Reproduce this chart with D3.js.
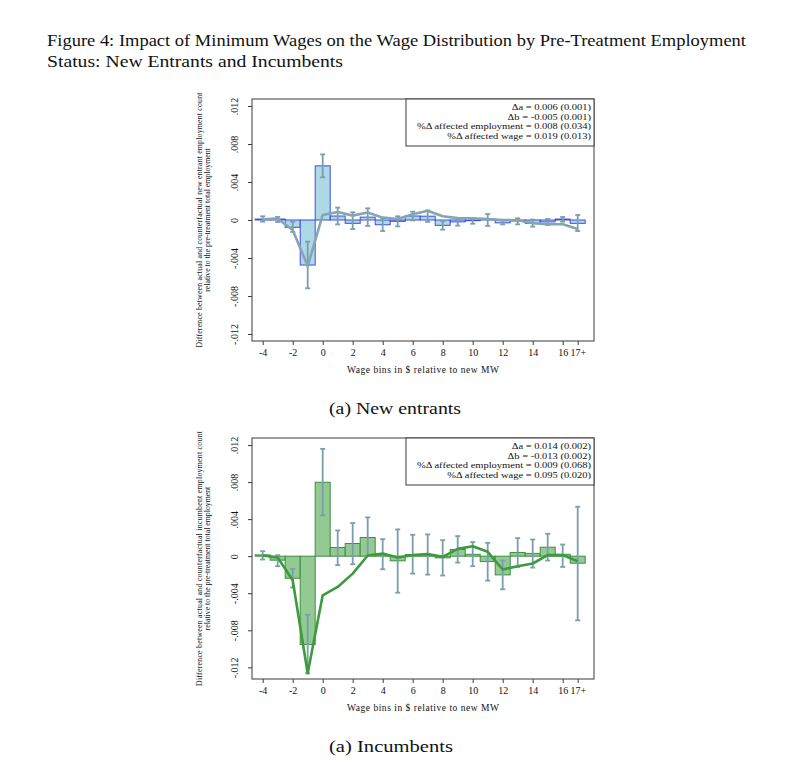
<!DOCTYPE html>
<html><head><meta charset="utf-8">
<script src="https://cdn.jsdelivr.net/npm/d3@7"></script>
<style>body{margin:0;background:#fff} svg{display:block}</style>
</head><body>
<script>
// ---------- DATA ----------
const bins = [-4,-3,-2,-1,0,1,2,3,4,5,6,7,8,9,10,11,12,13,14,15,16,17];
const xTickValues = [-4,-2,0,2,4,6,8,10,12,14,16,17];
const xTickLabels = ["-4","-2","0","2","4","6","8","10","12","14","16","17+"];
const yTickValues = [0.012,0.008,0.004,0,-0.004,-0.008,-0.012];
const yTickLabels = [".012",".008",".004","0","-.004","-.008","-.012"];

// New entrants
const barsNE  = [0.0001,0.0001,-0.00077,-0.00474,0.00570,0.00042,-0.00035,0.00030,-0.00050,-0.00014,0.00042,0.00040,-0.00056,-0.00020,-0.00007,0.00010,-0.00030,-0.00010,-0.00035,-0.00020,0.00010,-0.00035];
const ciHiNE  = [0.00039,0.00032,-0.00018,-0.00228,0.00691,0.00130,0.00081,0.00123,0.00018,0.00039,0.00088,0.00100,-0.00011,0.00011,0.00011,0.00063,0.00000,0.00018,0.00004,0.00011,0.00032,0.00053];
const ciLoNE  = [-0.00018,-0.00021,-0.00126,-0.00719,0.00449,-0.00046,-0.00095,-0.00063,-0.00116,-0.00067,-0.00004,-0.00020,-0.00102,-0.00060,-0.00039,-0.00063,-0.00046,-0.00046,-0.00070,-0.00053,-0.00018,-0.00116];
const lineNE  = [0.00007,0.00014,-0.00105,-0.00484,0.00053,0.00085,0.00046,0.00080,0.00025,0.00010,0.00060,0.00098,0.00040,0.00020,0.00018,0.00010,0.00000,-0.00003,-0.00035,-0.00045,-0.00045,-0.00095];
const legendNE = ["\u0394a =  0.006 (0.001)","\u0394b = -0.005 (0.001)","%\u0394 affected employment =  0.008 (0.034)","%\u0394 affected wage =  0.019 (0.013)"];

// Incumbents
const barsInc = [0.00014,-0.00043,-0.00238,-0.00953,0.00798,0.00094,0.00137,0.00202,0.00005,-0.00050,0.00018,0.00018,-0.00018,0.00072,0.00020,-0.00058,-0.00202,0.00040,0.00030,0.00097,0.00020,-0.00076];
const ciHiInc = [0.00054,0.00011,-0.00137,-0.00632,0.01159,0.00278,0.00357,0.00419,0.00184,0.00289,0.00231,0.00235,0.00173,0.00217,0.00152,0.00144,-0.00047,0.00195,0.00180,0.00242,0.00126,0.00534];
const ciLoInc = [-0.00036,-0.00108,-0.00339,-0.01264,0.00440,-0.00097,-0.00087,0.00004,-0.00141,-0.00394,-0.00188,-0.00199,-0.00209,-0.00069,-0.00108,-0.00264,-0.00357,-0.00116,-0.00123,-0.00047,-0.00116,-0.00693];
const lineInc = [0.00007,-0.00014,-0.00260,-0.01264,-0.00422,-0.00332,-0.00188,0.00007,0.00029,-0.00014,0.00011,0.00022,-0.00007,0.00079,0.00108,0.00047,-0.00144,-0.00108,-0.00079,0.00011,0.00011,-0.00054];
const legendInc = ["\u0394a =  0.014 (0.002)","\u0394b = -0.013 (0.002)","%\u0394 affected employment =  0.009 (0.068)","%\u0394 affected wage =  0.095 (0.020)"];

const titleLines = ["Figure 4: Impact of Minimum Wages on the Wage Distribution by Pre-Treatment Employment","Status: New Entrants and Incumbents"];
const xAxisTitle = "Wage bins in $ relative to new MW";

// ---------- DRAW ----------
const W = 795, H = 765;
const serif = "'Liberation Serif','Times New Roman',serif";
const svg = d3.select("body").append("svg").attr("width", W).attr("height", H);

svg.append("text").attr("x",47).attr("y",46).attr("font-family",serif).attr("font-size",17)
  .attr("textLength",699).attr("lengthAdjust","spacingAndGlyphs").attr("fill","#111").text(titleLines[0]);
svg.append("text").attr("x",47).attr("y",67).attr("font-family",serif).attr("font-size",17)
  .attr("textLength",296).attr("lengthAdjust","spacingAndGlyphs").attr("fill","#111").text(titleLines[1]);

function panel(cfg){
  const L = 252, R = 594, T = cfg.top, B = cfg.bottom;
  const x = d3.scaleLinear().domain([-4.713, 18.087]).range([L, R]);
  const y = d3.scaleLinear().domain(cfg.yDomain).range([B, T]);
  const g = svg.append("g");

  // bars
  g.selectAll("rect.bar").data(bins).join("rect").attr("class","bar")
    .attr("x", d => x(d-0.5)).attr("width", d => x(d+0.5)-x(d-0.5))
    .attr("y", (d,i) => y(Math.max(0,cfg.bars[i])))
    .attr("height", (d,i) => Math.abs(y(cfg.bars[i]) - y(0)))
    .attr("fill", cfg.barFill).attr("stroke", cfg.barStroke).attr("stroke-width", 1);

  // error bars
  const eb = g.selectAll("g.eb").data(bins).join("g").attr("class","eb")
    .attr("stroke", "#7b9eae").attr("stroke-width", 1.8);
  eb.append("line").attr("x1", d=>x(d)).attr("x2", d=>x(d))
    .attr("y1",(d,i)=>y(cfg.lo[i])).attr("y2",(d,i)=>y(cfg.hi[i]));
  eb.append("line").attr("x1", d=>x(d)-2.5).attr("x2", d=>x(d)+2.5)
    .attr("y1",(d,i)=>y(cfg.lo[i])).attr("y2",(d,i)=>y(cfg.lo[i]));
  eb.append("line").attr("x1", d=>x(d)-2.5).attr("x2", d=>x(d)+2.5)
    .attr("y1",(d,i)=>y(cfg.hi[i])).attr("y2",(d,i)=>y(cfg.hi[i]));

  // line
  const line = d3.line().x((d,i)=>x(bins[i])).y(d=>y(d));
  g.append("path").datum(cfg.line).attr("d", line).attr("fill","none")
    .attr("stroke", cfg.lineColor).attr("stroke-width", 2.6).attr("stroke-linejoin","round");

  // frame
  g.append("rect").attr("x",L).attr("y",T).attr("width",R-L).attr("height",B-T)
    .attr("fill","none").attr("stroke","#3a3a3a").attr("stroke-width",1);

  // x axis
  const xa = g.append("g").attr("transform",`translate(0,${B})`)
    .call(d3.axisBottom(x).tickValues(xTickValues).tickSize(4).tickPadding(4)
      .tickFormat((d,i)=>xTickLabels[i]));
  xa.select(".domain").remove();
  xa.selectAll("line").attr("stroke","#3a3a3a");
  xa.selectAll("text").attr("font-family",serif).attr("font-size",10).attr("fill","#111");

  // y axis
  const ya = g.append("g").attr("transform",`translate(${L},0)`)
    .call(d3.axisLeft(y).tickValues(yTickValues).tickSize(4).tickFormat((d,i)=>yTickLabels[i]));
  ya.select(".domain").remove();
  ya.selectAll("line").attr("stroke","#3a3a3a");
  ya.selectAll("text").attr("font-family",serif).attr("font-size",10).attr("fill","#111")
    .attr("text-anchor","middle").attr("dy",null).attr("x",null)
    .attr("transform","translate(-14,0) rotate(-90)");

  // axis titles
  g.append("text").attr("x",(L+R)/2).attr("y",B+32).attr("text-anchor","middle")
    .attr("font-family",serif).attr("font-size",9.5).attr("textLength",152).attr("fill","#111").text(xAxisTitle);
  const yc = (T+B)/2;
  g.append("text").attr("transform",`translate(202,${yc}) rotate(-90)`).attr("text-anchor","middle")
    .attr("font-family",serif).attr("font-size",7.8).attr("textLength",255).attr("fill","#111").text(cfg.yTitle1);
  g.append("text").attr("transform",`translate(209.5,${yc}) rotate(-90)`).attr("text-anchor","middle")
    .attr("font-family",serif).attr("font-size",7.8).attr("fill","#111").text(cfg.yTitle2);

  // legend box
  g.append("rect").attr("x",406).attr("y",T).attr("width",R-406).attr("height",47)
    .attr("fill","#fff").attr("stroke","#3a3a3a").attr("stroke-width",1);
  cfg.legend.forEach((s,i)=>{
    const t = g.append("text").attr("x",591).attr("y",T+11+i*9.6).attr("text-anchor","end")
      .attr("font-family",serif).attr("font-size",8.6).attr("fill","#111").text(s);
    const len = t.node().getComputedTextLength();
    t.attr("textLength", len*1.22).attr("lengthAdjust","spacingAndGlyphs");
  });

  // caption
  svg.append("text").attr("x",329).attr("y",cfg.capY).attr("font-family",serif).attr("font-size",16.5)
    .attr("textLength",cfg.capLen).attr("lengthAdjust","spacingAndGlyphs").attr("fill","#111").text(cfg.caption);
}

panel({top:99, bottom:341, yDomain:[-0.012737,0.012737],
  bars:barsNE, hi:ciHiNE, lo:ciLoNE, line:lineNE,
  barFill:"#add8e6", barStroke:"#3f4ee6", lineColor:"#86a5b2",
  yTitle1:"Difference between actual and counterfactual new entrant employment count",
  yTitle2:"relative to the pre-treatment total employment",
  legend:legendNE, caption:"(a) New entrants", capY:414, capLen:132});

panel({top:438, bottom:679, yDomain:[-0.01326,0.01276],
  bars:barsInc, hi:ciHiInc, lo:ciLoInc, line:lineInc,
  barFill:"#93c993", barStroke:"#3e8e3e", lineColor:"#3e9a3e",
  yTitle1:"Difference between actual and counterfactual incumbent employment count",
  yTitle2:"relative to the pre-treatment total employment",
  legend:legendInc, caption:"(a) Incumbents", capY:752, capLen:124});
</script>
</body></html>
